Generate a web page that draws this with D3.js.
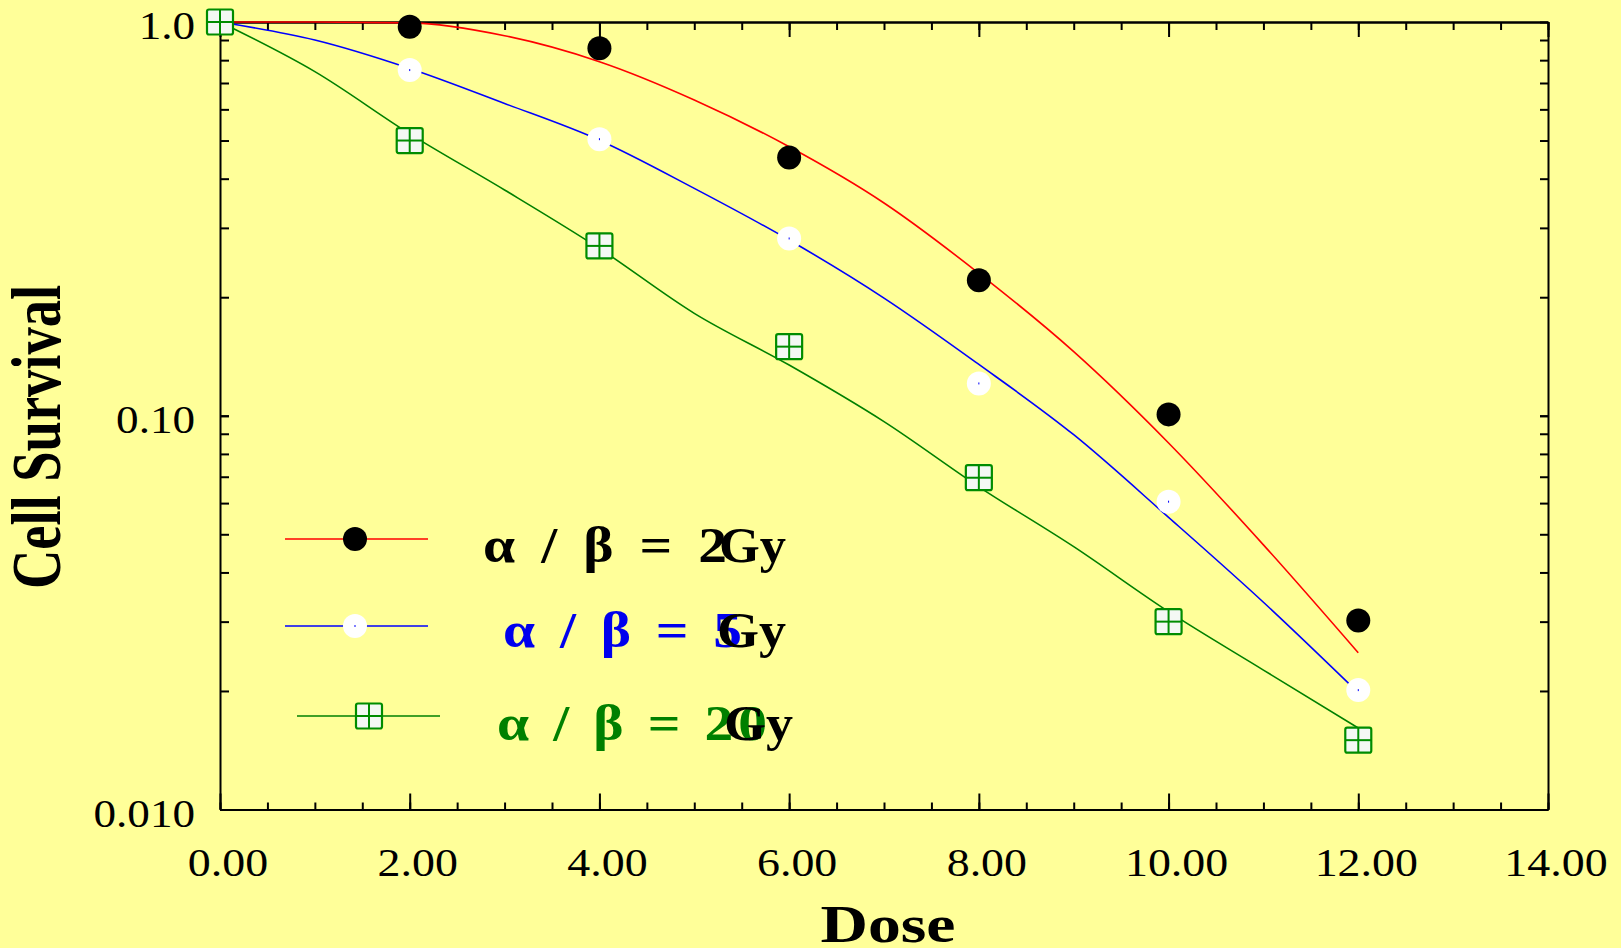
<!DOCTYPE html>
<html>
<head>
<meta charset="utf-8">
<script src="https://cdn.jsdelivr.net/npm/d3@7"></script>
<style>
  body { margin: 0; background: #ffff99; }
  svg { display: block; }
  .tick line, .domain { stroke: #000; stroke-width: 2px; }
</style>
</head>
<body>
<script>
var doses = [0, 2, 4, 6, 8, 10, 12];
var survival2 = [1.0, 0.973, 0.858, 0.453, 0.221, 0.1008, 0.0302];
var survival5 = [1.0, 0.755, 0.504, 0.282, 0.1208, 0.0605, 0.0201];
var survival20 = [1.0, 0.50, 0.270, 0.1498, 0.0696, 0.030, 0.0150];

// fitted curves, read at every Gy
var fitDoses = [0, 1, 2, 3, 4, 5, 6, 7, 8, 9, 10, 11, 12];
var fit2 = [1.0, 1.0, 0.995, 0.923, 0.793, 0.634, 0.482, 0.347, 0.230, 0.1455, 0.0853, 0.047, 0.0250];
var fit5 = [1.0, 0.90, 0.762, 0.621, 0.501, 0.378, 0.2795, 0.199, 0.135, 0.0895, 0.0552, 0.0336, 0.0198];
var fit20 = [1.0, 0.748, 0.52, 0.3745, 0.266, 0.182, 0.1345, 0.0966, 0.066, 0.0465, 0.0318, 0.0226, 0.0161];

// ticks
var xMajor = [0, 2, 4, 6, 8, 10, 12, 14];
var xMinor = d3.range(0, 14.01, 0.5);
var yMajor = [1.0, 0.1, 0.01];
var yLabels = ["1.0", "0.10", "0.010"];
var yMinor = [];
[0.01, 0.1].forEach(function(d) { for (var k = 1; k <= 10; k++) yMinor.push(d * k); });

var width = 1621, height = 948;

//Define SVG
var svg = d3.select("body")
    .append("svg")
    .attr("width", width)
    .attr("height", height);

svg.append("rect")
    .attr("width", width)
    .attr("height", height)
    .attr("fill", "#ffff99");

//Define Scales
var xScale = d3.scaleLinear().domain([0, 14]).range([220, 1548]);
var yScale = d3.scaleLog().domain([0.01, 1]).range([809.5, 22]);

//Axes (ticks point inward)
svg.append("g")
    .attr("transform", "translate(0," + yScale(0.01) + ")")
    .call(d3.axisBottom(xScale).tickValues(xMinor).tickSize(-7).tickSizeOuter(0).tickFormat(""));
svg.append("g")
    .attr("transform", "translate(0," + yScale(0.01) + ")")
    .call(d3.axisBottom(xScale).tickValues(xMajor).tickSize(-16).tickSizeOuter(0).tickFormat(""));
svg.append("g")
    .attr("transform", "translate(0," + yScale(1) + ")")
    .call(d3.axisTop(xScale).tickValues(xMinor).tickSize(-8).tickSizeOuter(0).tickFormat(""));
svg.append("g")
    .attr("transform", "translate(0," + yScale(1) + ")")
    .call(d3.axisTop(xScale).tickValues(xMajor).tickSize(-15).tickSizeOuter(0).tickFormat(""));
svg.append("g")
    .attr("transform", "translate(" + xScale(0) + ",0)")
    .call(d3.axisLeft(yScale).tickValues(yMinor).tickSize(-9).tickSizeOuter(0).tickFormat(""));
svg.append("g")
    .attr("transform", "translate(" + xScale(14) + ",0)")
    .call(d3.axisRight(yScale).tickValues(yMinor).tickSize(-8).tickSizeOuter(0).tickFormat(""));

svg.selectAll(".tick text").remove();

//Tick labels
var serif = "'Liberation Serif', 'Times New Roman', serif";

svg.selectAll(".xlabel")
    .data(xMajor)
    .enter().append("text")
    .attr("class", "xlabel")
    .attr("transform", function(d) { return "translate(" + (xScale(d) + 8) + ",876) scale(1.12,1)"; })
    .style("text-anchor", "middle")
    .style("font-family", serif)
    .style("font-size", "41px")
    .text(function(d) { return d.toFixed(2); });

svg.selectAll(".ylabel")
    .data(yMajor)
    .enter().append("text")
    .attr("class", "ylabel")
    .attr("transform", function(d) { return "translate(195," + (yScale(d) + 17) + ") scale(1.1,1)"; })
    .style("text-anchor", "end")
    .style("font-family", serif)
    .style("font-size", "41px")
    .text(function(d, i) { return yLabels[i]; });

//Axis titles
svg.append("text")
    .attr("transform", "translate(888,942) scale(1.24,1)")
    .style("text-anchor", "middle")
    .style("font-family", serif)
    .style("font-weight", "bold")
    .style("font-size", "53px")
    .text("Dose");

svg.append("text")
    .attr("transform", "translate(60,437) scale(1.28,1) rotate(-90)")
    .style("text-anchor", "middle")
    .style("font-family", serif)
    .style("font-weight", "bold")
    .style("font-size", "54.5px")
    .text("Cell Survival");

//Fitted lines
var line = d3.line()
    .x(function(d) { return xScale(d[0]); })
    .y(function(d) { return yScale(d[1]); })
    .curve(d3.curveMonotoneX);

var fits = [
    {values: fit2, color: "#ff0000"},
    {values: fit5, color: "#0000ff"},
    {values: fit20, color: "#008000"}
];

fits.forEach(function(f) {
    svg.append("path")
        .datum(fitDoses.map(function(d, i) { return [d, f.values[i]]; }))
        .attr("d", line)
        .attr("fill", "none")
        .attr("stroke", f.color)
        .attr("stroke-width", 1.6);
});

//Markers
function blackDot(g, cx, cy) {
    g.append("circle").attr("cx", cx).attr("cy", cy).attr("r", 12).attr("fill", "#000");
}
function whiteDot(g, cx, cy) {
    g.append("circle").attr("cx", cx).attr("cy", cy).attr("r", 12).attr("fill", "#fff");
    g.append("rect").attr("x", cx - 0.5).attr("y", cy - 1).attr("width", 1).attr("height", 2).attr("fill", "#0000ff");
}
function greenBox(g, cx, cy) {
    g.append("rect").attr("x", cx - 13).attr("y", cy - 12.5).attr("width", 26).attr("height", 25)
        .attr("rx", 2).attr("fill", "#f4f8f4").attr("stroke", "#008c00").attr("stroke-width", 2.2);
    g.append("line").attr("x1", cx).attr("x2", cx).attr("y1", cy - 12.5).attr("y2", cy + 12.5)
        .attr("stroke", "#008c00").attr("stroke-width", 2);
    g.append("line").attr("x1", cx - 13).attr("x2", cx + 13).attr("y1", cy).attr("y2", cy)
        .attr("stroke", "#008c00").attr("stroke-width", 2);
}

var pts = svg.append("g");
doses.forEach(function(d, i) { blackDot(pts, xScale(d), yScale(survival2[i])); });
doses.forEach(function(d, i) { whiteDot(pts, xScale(d), yScale(survival5[i])); });
doses.forEach(function(d, i) { greenBox(pts, xScale(d), yScale(survival20[i])); });

//Legend
var legend = [
    {y: 539, x1: 285, x2: 428, mx: 355, color: "#ff0000", marker: blackDot,
     text: "\u03b1 / \u03b2 = 2", textColor: "#000", tx: 483, tx2: 727, base: 562, gx: 719, gx2: 786},
    {y: 626, x1: 285, x2: 428, mx: 355, color: "#0000ff", marker: whiteDot,
     text: "\u03b1 / \u03b2 = 5", textColor: "#0000ee", tx: 503, tx2: 742, base: 647, gx: 717, gx2: 786},
    {y: 716, x1: 297, x2: 440, mx: 369, color: "#008000", marker: greenBox,
     text: "\u03b1 / \u03b2 = 20", textColor: "#008000", tx: 497, tx2: 767, base: 740, gx: 724, gx2: 793}
];

legend.forEach(function(l) {
    var g = svg.append("g");
    g.append("line")
        .attr("x1", l.x1).attr("x2", l.x2)
        .attr("y1", l.y).attr("y2", l.y)
        .attr("stroke", l.color).attr("stroke-width", 1.6);
    l.marker(g, l.mx, l.y);

    g.append("text")
        .attr("transform", "translate(" + l.tx + "," + l.base + ") scale(1.15,1)")
        .attr("textLength", (l.tx2 - l.tx) / 1.15)
        .attr("lengthAdjust", "spacing")
        .style("font-family", serif)
        .style("font-weight", "bold")
        .style("font-size", "50px")
        .style("fill", l.textColor)
        .text(l.text);

    g.append("text")
        .attr("x", l.gx)
        .attr("y", l.base)
        .attr("textLength", l.gx2 - l.gx)
        .attr("lengthAdjust", "spacingAndGlyphs")
        .style("font-family", serif)
        .style("font-weight", "bold")
        .style("font-size", "50px")
        .style("fill", "#000")
        .text("Gy");
});
</script>
</body>
</html>
